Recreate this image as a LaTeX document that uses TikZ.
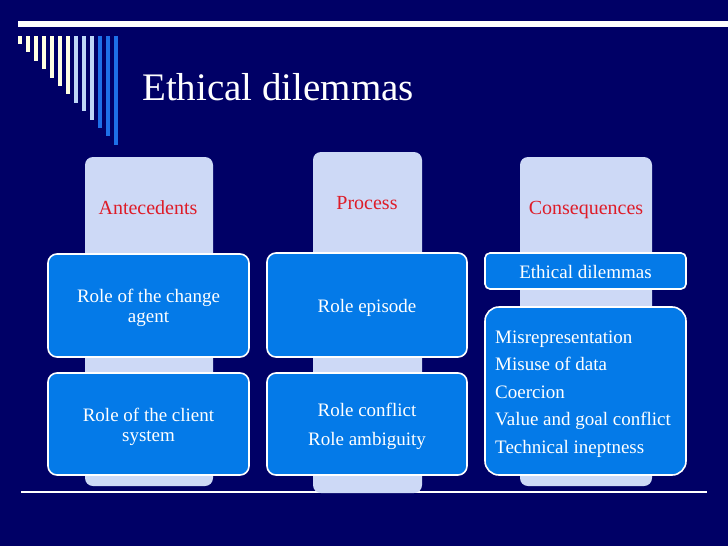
\documentclass[tikz,border=0pt]{standalone}
\usepackage{fontspec}
\setmainfont{Liberation Serif}
\definecolor{navy}{RGB}{0,0,102}
\definecolor{lav}{RGB}{205,217,246}
\definecolor{boxblue}{RGB}{4,122,232}
\definecolor{hdrred}{RGB}{222,28,40}
\definecolor{cream}{RGB}{255,255,226}
\definecolor{lightstripe}{RGB}{190,214,246}
\definecolor{bluestripe}{RGB}{30,112,232}
\begin{document}
\begin{tikzpicture}[x=1pt,y=-1pt,
  colbg/.style={fill=lav, rounded corners=8pt, inner sep=0pt, outer sep=0pt},
  bluebox/.style={fill=boxblue, draw=white, line width=1.6pt, rounded corners=9pt, inner sep=0pt, outer sep=0pt},
  boxtext/.style={text=white, font=\fontsize{19}{20}\selectfont, align=center, inner sep=0pt},
  header/.style={text=hdrred, font=\fontsize{20}{24}\selectfont, inner sep=0pt}]
\fill[navy] (0,0) rectangle (728,546);
\useasboundingbox (0,0) rectangle (728,546);
% top bar
\fill[white] (18,21) rectangle (728,27);
% stripes
\foreach \i/\c in {0/cream,1/cream,2/cream,3/cream,4/cream,5/cream,6/cream,7/lightstripe,8/lightstripe,9/lightstripe,10/bluestripe,11/bluestripe,12/bluestripe}
  \fill[\c] (18+8*\i,36) rectangle (22+8*\i,44+8.4*\i);
% title
\node[anchor=base west, text=white, font=\fontsize{39}{41}\selectfont, inner sep=0pt] (title) at (142,100) {Ethical dilemmas};
% bottom line
\coordinate (lineL) at (21,492);
\coordinate (lineR) at (707,492);
\draw[white, line width=1.3pt] (lineL) -- (lineR);
% column backgrounds
\node[colbg, minimum width=128pt, minimum height=329pt] (antbg) at (149,321.5) {};
\node[colbg, minimum width=109pt, minimum height=341pt] (procbg) at (367.5,322.5) {};
\node[colbg, minimum width=132pt, minimum height=329pt] (consbg) at (586,321.5) {};
% headers
\node[header] (anthdr) at (148,208) {Antecedents};
\node[header] (prochdr) at (367,203) {Process};
\node[header] (conshdr) at (586,210) {Consequences};
% left boxes
\node[bluebox, minimum width=201pt, minimum height=103pt] (ant1) at (148.5,305.5) {};
\node[boxtext] at ([yshift=-2pt]ant1) {Role of the change\\agent};
\node[bluebox, minimum width=201pt, minimum height=102pt] (ant2) at (148.5,424) {};
\node[boxtext] at ([yshift=-2.5pt]ant2) {Role of the client\\system};
% middle boxes
\node[bluebox, minimum width=200pt, minimum height=104pt] (proc1) at (367,305) {};
\node[boxtext] at ([yshift=-3pt]proc1) {Role episode};
\node[bluebox, minimum width=200pt, minimum height=102pt] (proc2) at (367,424) {};
\node[boxtext] at ([yshift=-2pt]proc2) {Role conflict\\[9pt]Role ambiguity};
% right boxes
\node[bluebox, rounded corners=5pt, minimum width=201pt, minimum height=36pt] (cons1) at (585.5,271) {};
\node[boxtext] at ([yshift=-1pt]cons1) {Ethical dilemmas};
\node[bluebox, rounded corners=14pt, minimum width=201pt, minimum height=168pt] (cons2) at (585.5,391) {};
\node[boxtext, align=left, anchor=west, font=\fontsize{19}{27.5}\selectfont] (conslist) at (495,394) {Misrepresentation\\Misuse of data\\Coercion\\Value and goal conflict\\Technical ineptness};
\end{tikzpicture}
\end{document}
